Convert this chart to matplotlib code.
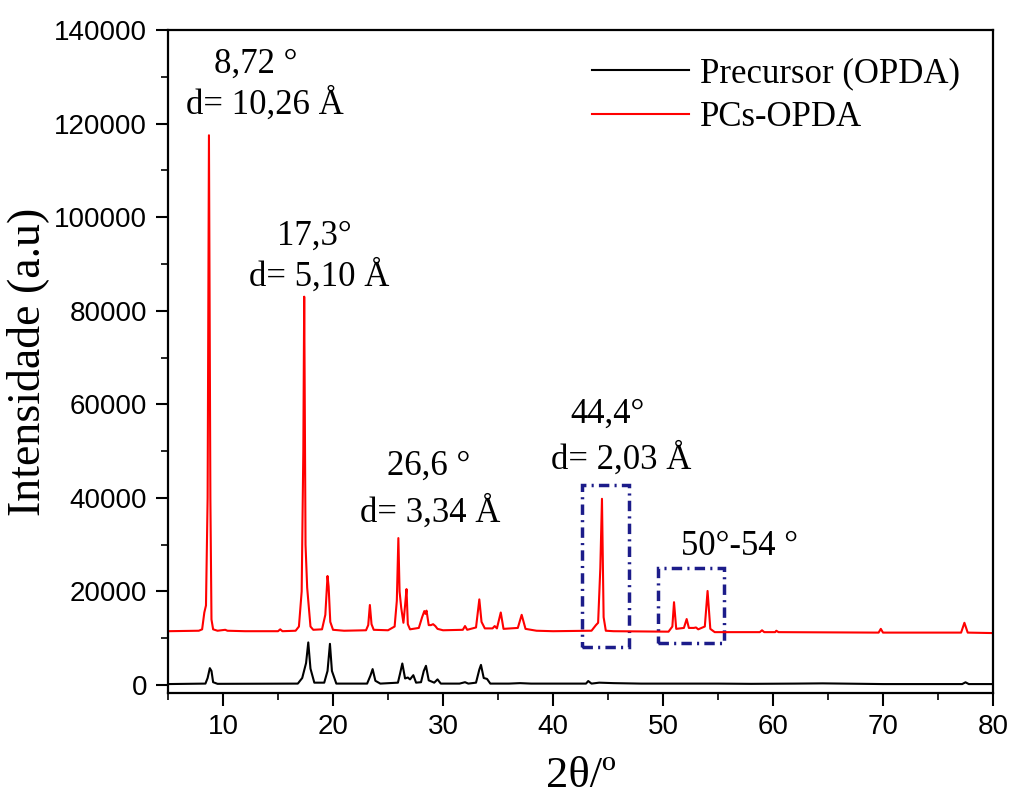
import matplotlib
matplotlib.use('Agg')
import matplotlib.pyplot as plt
from matplotlib.patches import Rectangle
from matplotlib.ticker import MultipleLocator

# difratograma (2theta, intensidade)
pcs_2theta = [5.0, 7.8, 8.1, 8.3, 8.45, 8.6, 8.72, 8.85, 8.95, 9.1, 9.5, 10.2, 10.4, 12.0,
              15.0, 15.2, 15.4, 16.6, 16.9, 17.15, 17.3, 17.38, 17.5, 17.65, 17.75, 17.95, 18.2,
              19.0, 19.3, 19.5, 19.6, 19.75, 20.0, 21.0, 23.0, 23.2, 23.35, 23.5, 23.7,
              25.0, 25.6, 25.8, 25.94, 26.05, 26.2, 26.4, 26.55, 26.68, 26.8, 27.0,
              27.8, 28.1, 28.3, 28.4, 28.5, 28.7, 28.9, 29.1, 29.3, 29.5, 30.0,
              31.8, 32.0, 32.2, 33.0, 33.3, 33.5, 33.8, 34.5, 34.7, 34.9, 35.25, 35.5,
              36.8, 37.15, 37.5, 38.5, 40.0, 43.5, 43.9, 44.1, 44.3, 44.45, 44.6, 44.8,
              45.5, 50.5, 50.85, 51.0, 51.2, 51.9, 52.15, 52.35, 52.8, 53.0, 53.2, 53.8,
              54.05, 54.3, 54.7, 58.8, 59.0, 59.2, 60.2, 60.3, 60.5, 69.6, 69.8, 70.0,
              77.1, 77.4, 77.7, 80.0]
pcs_int = [11500, 11600, 11900, 15500, 17000, 40000, 117500, 40000, 14000, 11900, 11600, 11800, 11600, 11500,
           11500, 11900, 11500, 11600, 12500, 20000, 50000, 83000, 30000, 20800, 18000, 12500, 11800,
           11900, 15000, 23300, 21000, 13500, 11800, 11600, 11700, 12800, 17100, 13000, 11800,
           11700, 12500, 18000, 31400, 20000, 16500, 13300, 17000, 20500, 13000, 11900,
           12200, 14500, 15800, 15200, 15900, 12800, 12800, 13000, 12600, 12000, 11700,
           11800, 12600, 11800, 12300, 18300, 13500, 12100, 12100, 12600, 12100, 15500, 12000,
           12200, 15000, 12000, 11600, 11500, 11600, 12800, 13300, 25000, 39800, 14500, 11600,
           11500, 11400, 12500, 17700, 12000, 12200, 14100, 12200, 12200, 12300, 11900, 12500,
           20100, 12000, 11300, 11300, 11700, 11300, 11300, 11600, 11300, 11200, 12000, 11200,
           11200, 13300, 11200, 11100]

opda_2theta = [5.0, 8.4, 8.6, 8.8, 8.95, 9.1, 9.5, 16.8, 17.2, 17.55, 17.75, 17.95, 18.3,
               19.2, 19.5, 19.72, 19.9, 20.3, 23.1, 23.4, 23.6, 23.85, 24.3,
               25.9, 26.1, 26.3, 26.55, 26.8, 27.0, 27.3, 27.55, 28.0, 28.25, 28.45, 28.7,
               29.2, 29.5, 29.8, 31.5, 32.0, 32.3, 33.0, 33.3, 33.45, 33.7, 34.0, 34.3,
               36.0, 37.0, 38.0, 43.0, 43.2, 43.5, 44.2, 45.5, 48.0, 50.0, 55.0, 58.0,
               62.0, 64.5, 70.0, 77.2, 77.5, 77.8, 80.0]
opda_int = [200, 300, 1500, 3600, 3000, 600, 250, 300, 1500, 4700, 9100, 3500, 500,
            500, 3000, 8800, 3000, 300, 300, 2000, 3400, 900, 300,
            500, 2500, 4600, 1400, 1600, 1200, 2100, 500, 600, 3000, 4100, 1000,
            500, 1200, 300, 300, 600, 300, 500, 3300, 4300, 1500, 1300, 300,
            300, 400, 300, 300, 850, 300, 500, 400, 300, 300, 300, 250,
            300, 350, 200, 200, 580, 200, 200]

serif = 'Liberation Serif'
sans = 'Liberation Sans'

fig = plt.figure(figsize=(10.11, 8), dpi=100)
ax = fig.add_axes([0.1662, 0.1338, 0.816, 0.8287])

ax.plot(opda_2theta, opda_int, color='black', lw=1.5, label='Precursor (OPDA)')
ax.plot(pcs_2theta, pcs_int, color='red', lw=1.5, label='PCs-OPDA')

ax.set_xlim(5, 80)
ax.set_ylim(-1700, 140000)
ax.xaxis.set_major_locator(MultipleLocator(10))
ax.xaxis.set_minor_locator(MultipleLocator(5))
ax.yaxis.set_major_locator(MultipleLocator(20000))
ax.yaxis.set_minor_locator(MultipleLocator(10000))
ax.tick_params(which='major', length=9, width=1.5, labelsize=20, pad=6)
ax.tick_params(which='minor', length=5, width=1.2)
for lab in ax.get_xticklabels() + ax.get_yticklabels():
    lab.set_fontfamily(sans)
for s in ax.spines.values():
    s.set_linewidth(1.6)

ax.set_ylabel('Intensidade (a.u)', fontsize=33, fontfamily=serif, labelpad=4)
ax.set_xlabel('2θ/º', fontsize=32, fontfamily=serif, labelpad=12)

txt = dict(fontsize=25, fontfamily=serif, ha='center', va='center')
ax.text(13.0, 132700, '8,72 °', **txt)
ax.text(13.8, 124100, 'd= 10,26 Å', **txt)
ax.text(18.3, 95900, '17,3°', **txt)
ax.text(18.7, 87300, 'd= 5,10 Å', **txt)
ax.text(28.7, 46700, '26,6 °', **txt)
ax.text(28.8, 36800, 'd= 3,34 Å', **txt)
ax.text(45.0, 57800, '44,4°', **txt)
ax.text(46.2, 48200, 'd= 2,03 Å', **txt)
ax.text(57.0, 29500, '50°-54 °', **txt)

box = dict(fill=False, edgecolor='#1c1c8a', lw=2.5, linestyle=(0, (3, 1.5, 0.6, 1.5)))
ax.add_patch(Rectangle((42.6, 8200), 4.3, 34600, **box))
ax.add_patch(Rectangle((49.5, 9050), 6.0, 15950, **box))

ax.legend(loc='upper right', frameon=False, prop={'family': serif, 'size': 25},
          handlelength=2.8, handletextpad=0.3, labelspacing=0.3,
          bbox_to_anchor=(0.985, 0.99), borderaxespad=0.2)

fig.savefig('out.png', dpi=100)
